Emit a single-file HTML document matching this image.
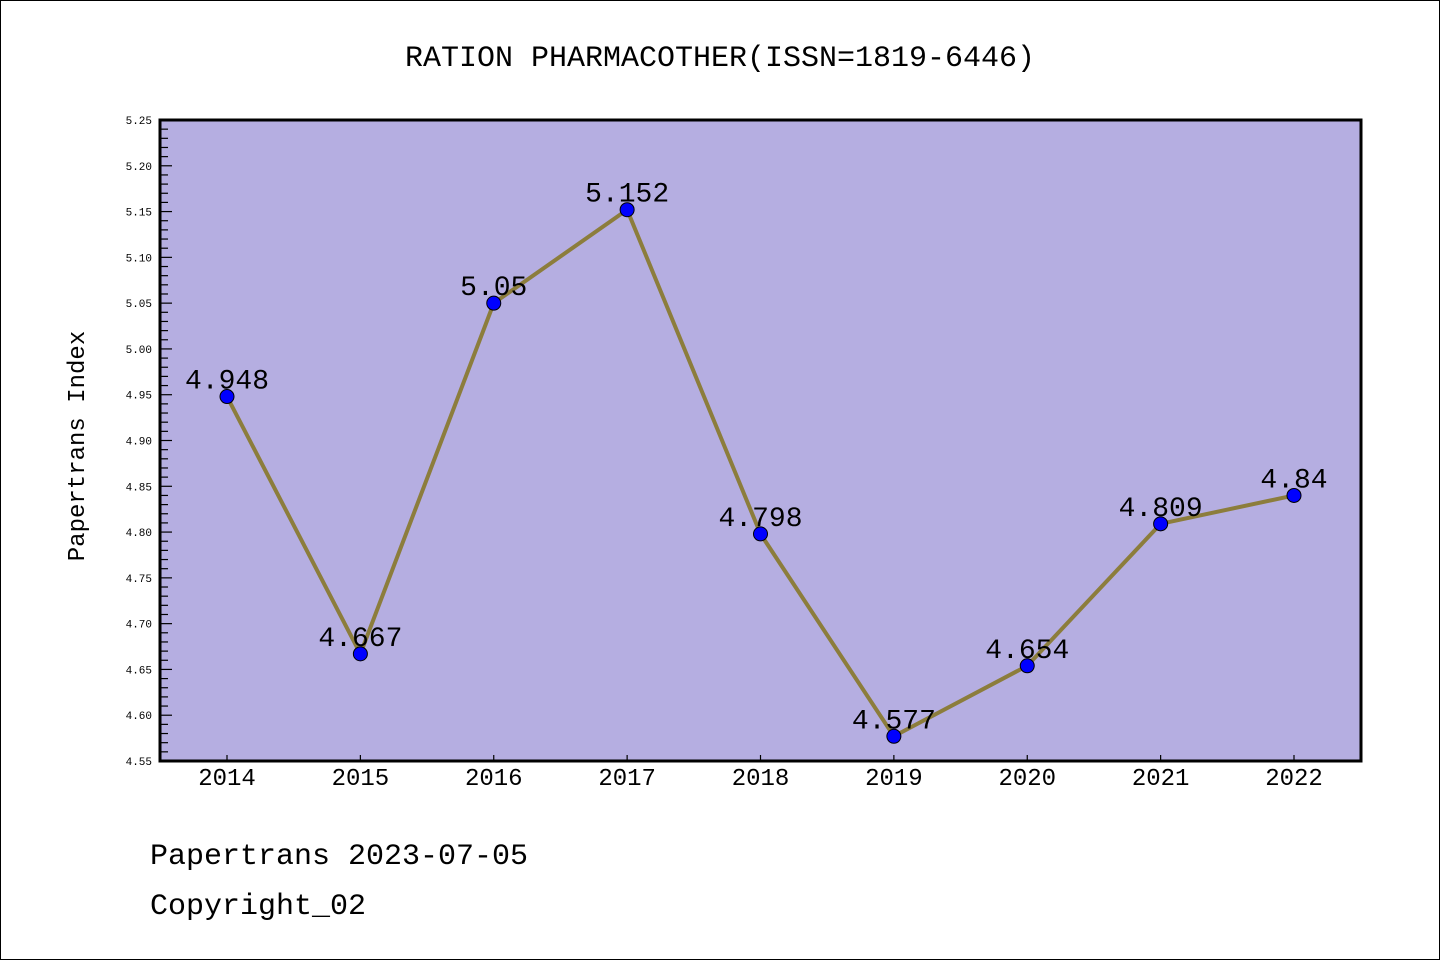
<!DOCTYPE html>
<html><head><meta charset="utf-8"><style>
html,body{margin:0;padding:0;background:#fff;}
svg{display:block;}
text{font-family:"Liberation Mono","DejaVu Sans Mono",monospace;}
</style></head><body>
<svg id="chart" width="1440" height="960" xmlns="http://www.w3.org/2000/svg">
<rect x="0.5" y="0.5" width="1439" height="959" fill="#fff" stroke="#000"/>
<text x="720" y="66" text-anchor="middle" font-size="30">RATION PHARMACOTHER(ISSN=1819-6446)</text>
<rect x="160" y="120" width="1201" height="641" fill="#b5aee1"/>
<g id="yaxis"></g>
<g id="xaxis"></g>
<g id="series"></g>
<rect x="160" y="120" width="1201" height="641" fill="none" stroke="#000" stroke-width="3"/>
<text transform="translate(84,446) rotate(-90)" text-anchor="middle" font-size="24">Papertrans Index</text>
<text x="150" y="864" font-size="30">Papertrans 2023-07-05</text>
<text x="150" y="914" font-size="30">Copyright_02</text>
</svg>
<script>
const years = ["2014","2015","2016","2017","2018","2019","2020","2021","2022"];
const values = [4.948,4.667,5.05,5.152,4.798,4.577,4.654,4.809,4.84];
const valueLabels = ["4.948","4.667","5.05","5.152","4.798","4.577","4.654","4.809","4.84"];
const yTicks = ["4.55","4.60","4.65","4.70","4.75","4.80","4.85","4.90","4.95","5.00","5.05","5.10","5.15","5.20","5.25"];
const yMin = 4.55, yMax = 5.25;
const NS = "http://www.w3.org/2000/svg";
const L = 160, R = 1361, T = 120, B = 761;
function y(v){ return B - (v - yMin) / (yMax - yMin) * (B - T); }
function x(i){ return 227 + i * (1294 - 227) / (years.length - 1); }
function mk(tag, attrs, parent){ const e = document.createElementNS(NS, tag); for (const k in attrs) e.setAttribute(k, attrs[k]); parent.appendChild(e); return e; }
const ya = document.getElementById('yaxis');
for (let k = 0; k <= Math.round((yMax - yMin) * 100); k++) {
  const v = yMin + k * 0.01, yy = y(v), major = k % 5 === 0;
  const t = mk('line', {x1: L, x2: L + (major ? 12 : 8), y1: yy, y2: yy, stroke: '#000', 'stroke-width': 1.2}, ya);
  
  
}
yTicks.forEach(s => {
  const t = mk('text', {x: 152, y: y(parseFloat(s)) + 4, 'text-anchor': 'end', 'font-size': 11, 'font-family': '"DejaVu Sans",sans-serif'}, ya);
  t.textContent = s;
  
  
});
const xa = document.getElementById('xaxis');
years.forEach((yr, i) => {
  const tk = mk('line', {x1: x(i), x2: x(i), y1: B, y2: B - 6, stroke: '#000', 'stroke-width': 1.2}, xa);
  
  
  const t = mk('text', {x: x(i), y: 785, 'text-anchor': 'middle', 'font-size': 24, 'font-family': '"Liberation Sans",sans-serif'}, xa);
  t.textContent = yr;
  
  
});
const sg = document.getElementById('series');
const pts = values.map((v, i) => x(i) + ',' + y(v)).join(' ');
const pl = mk('polyline', {points: pts, fill: 'none', stroke: '#8c7d3c', 'stroke-width': 4, 'stroke-linejoin': 'round'}, sg);


values.forEach((v, i) => {
  const c = mk('circle', {cx: x(i), cy: y(v), r: 7, fill: '#0000ff', stroke: '#000', 'stroke-width': 1}, sg);
  
  
  const t = mk('text', {x: x(i), y: y(v) - 8, 'text-anchor': 'middle', 'font-size': 28}, sg);
  t.textContent = valueLabels[i];
  
  
});
</script>
</body></html>
